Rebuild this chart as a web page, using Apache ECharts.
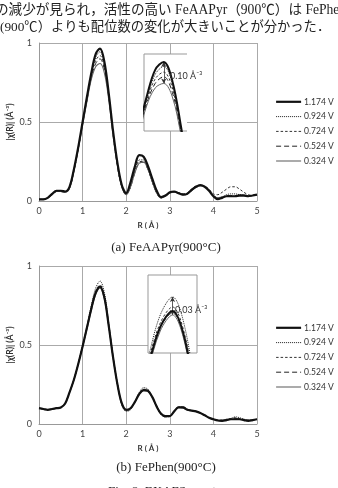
<!DOCTYPE html>
<html><head><meta charset="utf-8">
<script src="https://cdn.jsdelivr.net/npm/echarts@6/dist/echarts.min.js"></script>
<style>html,body{margin:0;padding:0;background:#fff}#c{width:338px;height:488px}</style>
</head><body><div id="c"></div>
<script>
// R axis (Å)
const rValues = [0,0.1,0.2,0.3,0.4,0.5,0.6,0.7,0.8,0.9,1.0,1.1,1.2,1.3,1.4,1.5,1.6,1.7,1.8,1.9,2.0,2.1,2.2,2.3,2.4,2.5,2.6,2.7,2.8,2.9,3.0,3.1,3.2,3.3,3.4,3.5,3.6,3.7,3.8,3.9,4.0,4.1,4.2,4.3,4.4,4.5,4.6,4.7,4.8,4.9,5.0];
const seriesNames = ['1.174 V','0.924 V','0.724 V','0.524 V','0.324 V'];
const xTicks = [0,1,2,3,4,5];
const yTicks = [0,0.5,1];

// (a) FeAAPyr(900°C)
const a1174 = [.01,.01,.02,.045,.065,.065,.06,.09,.2,.34,.5,.66,.81,.93,.965,.88,.68,.44,.24,.1,.05,.12,.22,.29,.28,.22,.14,.065,.025,.035,.055,.06,.05,.04,.045,.07,.09,.1,.09,.065,.03,.012,.02,.03,.03,.03,.035,.035,.03,.035,.04];
const a0924 = [.01,.01,.02,.04,.06,.065,.06,.085,.19,.33,.49,.65,.8,.91,.945,.87,.67,.43,.23,.09,.045,.1,.2,.26,.26,.2,.12,.055,.02,.035,.055,.06,.05,.045,.05,.075,.095,.1,.09,.065,.035,.02,.025,.04,.045,.045,.04,.035,.03,.035,.04];
const a0724 = [.01,.01,.02,.04,.06,.06,.06,.085,.19,.33,.49,.64,.79,.89,.92,.85,.66,.42,.22,.09,.04,.09,.19,.25,.25,.2,.12,.05,.02,.03,.05,.055,.05,.045,.05,.075,.095,.1,.095,.075,.045,.04,.055,.075,.09,.09,.075,.055,.04,.035,.04];
const a0524 = [.01,.01,.02,.04,.06,.06,.055,.08,.19,.33,.49,.64,.78,.87,.9,.83,.65,.42,.22,.09,.04,.09,.18,.24,.245,.2,.12,.05,.02,.03,.05,.055,.05,.04,.045,.07,.09,.1,.09,.07,.035,.02,.025,.035,.035,.035,.035,.035,.03,.035,.04];
const a0324 = [.01,.01,.02,.04,.06,.06,.055,.08,.19,.33,.48,.63,.77,.85,.87,.81,.64,.41,.22,.09,.04,.09,.18,.24,.245,.2,.12,.05,.02,.03,.05,.055,.05,.04,.045,.065,.085,.095,.09,.07,.035,.02,.025,.03,.03,.03,.03,.03,.03,.035,.04];

// (b) FePhen(900°C)
const b1174 = [.1,.095,.09,.095,.1,.105,.13,.2,.28,.38,.49,.61,.73,.83,.87,.8,.62,.42,.25,.13,.09,.1,.14,.19,.215,.21,.17,.11,.065,.05,.05,.08,.105,.105,.09,.085,.08,.07,.055,.04,.03,.022,.02,.025,.03,.03,.03,.025,.02,.025,.03];
const b0924 = [.1,.095,.09,.095,.1,.105,.13,.2,.28,.38,.5,.62,.75,.86,.905,.83,.64,.43,.25,.12,.08,.09,.14,.2,.23,.22,.17,.11,.06,.045,.05,.08,.11,.11,.095,.085,.08,.07,.055,.04,.03,.025,.025,.03,.035,.045,.04,.03,.025,.025,.03];
const b0724 = [.1,.095,.09,.095,.1,.105,.13,.2,.28,.38,.49,.61,.74,.84,.88,.81,.63,.42,.25,.12,.085,.095,.14,.195,.22,.215,.17,.11,.06,.045,.05,.08,.105,.105,.09,.085,.08,.07,.055,.04,.03,.025,.025,.03,.035,.04,.035,.03,.025,.025,.03];
const b0524 = [.1,.095,.09,.095,.1,.105,.13,.2,.28,.38,.49,.61,.73,.83,.865,.8,.62,.42,.25,.125,.09,.1,.14,.19,.215,.21,.17,.11,.065,.05,.05,.08,.105,.105,.09,.085,.08,.07,.055,.04,.03,.022,.02,.025,.03,.035,.03,.025,.02,.025,.03];
const b0324 = [.1,.095,.09,.095,.1,.105,.13,.2,.28,.38,.49,.6,.72,.82,.86,.79,.62,.42,.25,.13,.09,.1,.14,.19,.21,.205,.17,.11,.065,.05,.05,.08,.105,.1,.09,.085,.08,.07,.055,.04,.03,.022,.02,.025,.03,.03,.03,.025,.02,.025,.03];

const dataA = [a1174,a0924,a0724,a0524,a0324];
const dataB = [b1174,b0924,b0724,b0524,b0324];

const styles = [
  {width:2.2, type:'solid', color:'#111'},
  {width:1, type:[1,1], color:'#222'},
  {width:1, type:[2.5,2], color:'#333'},
  {width:1, type:[5,3], color:'#222'},
  {width:1.1, type:'solid', color:'#666'}
];
const pair = arr => arr.map((v,i)=>[rValues[i], v]);

const tickFont = {fontFamily:'Lato, "Open Sans", sans-serif', fontSize:9, color:'#444'};
function mainX(gi){return {gridIndex:gi,type:'value',min:0,max:5,interval:1,
  name:'R ( Å )',nameLocation:'middle',nameGap:20,nameMoveOverlap:false,
  nameTextStyle:{fontFamily:'Lato, sans-serif',fontSize:8,fontWeight:'bold',color:'#333'},
  axisLine:{lineStyle:{color:'#999'}},axisTick:{show:false},
  axisLabel:Object.assign({margin:6},tickFont),
  splitLine:{show:true,lineStyle:{color:'#aaa',width:1}}};}
function mainY(gi){return {gridIndex:gi,type:'value',min:0,max:1,interval:0.5,
  name:'|χ(R)| (Å⁻³)',nameLocation:'middle',nameGap:24,nameRotate:90,nameMoveOverlap:false,
  nameTextStyle:{fontFamily:'Lato, sans-serif',fontSize:8.5,fontWeight:'bold',color:'#333'},
  axisLine:{show:true,lineStyle:{color:'#999'}},axisTick:{show:false},
  axisLabel:Object.assign({margin:7,formatter:v=>String(v)},tickFont),
  splitLine:{show:true,lineStyle:{color:'#aaa',width:1}}};}
function insetX(gi,min,max){return {gridIndex:gi,type:'value',min:min,max:max,show:false};}
function insetY(gi,min,max){return {gridIndex:gi,type:'value',min:min,max:max,show:false};}

const series = [];
[dataA,dataB].forEach((set,k)=>{
  set.forEach((arr,i)=>{
    series.push({name:seriesNames[i],type:'line',xAxisIndex:k,yAxisIndex:k,
      data:pair(arr),smooth:0.35,showSymbol:false,symbol:'none',silent:true,
      z: i===0?4:2,
      lineStyle:Object.assign({},styles[i]),itemStyle:{color:styles[i].color}});
  });
});
// insets (same data, magnified)
[[dataA,2],[dataB,3]].forEach(([set,ax])=>{
  set.forEach((arr,i)=>{
    series.push({name:seriesNames[i],type:'line',xAxisIndex:ax,yAxisIndex:ax,
      data:pair(arr),smooth:0.35,showSymbol:false,symbol:'none',silent:true,clip:true,
      z: i===0?7:6,
      lineStyle:Object.assign({},styles[i],{width:i===0?2:1}),itemStyle:{color:styles[i].color}});
  });
});
// arrows marking the peak difference
series.push({type:'line',xAxisIndex:2,yAxisIndex:2,data:[],z:8,silent:true,
  markLine:{silent:true,symbol:['arrow','arrow'],symbolSize:[4,5],label:{show:false},
    lineStyle:{type:'solid',color:'#333',width:0.8},
    data:[[{coord:[1.4,a1174[14]]},{coord:[1.4,a0324[14]]}]]}});
series.push({type:'line',xAxisIndex:3,yAxisIndex:3,data:[],z:8,silent:true,
  markLine:{silent:true,symbol:['arrow','arrow'],symbolSize:[4,5],label:{show:false},
    lineStyle:{type:'solid',color:'#333',width:0.8},
    data:[[{coord:[1.4,b0924[14]]},{coord:[1.4,b0324[14]]}]]}});

const legendBase = {orient:'vertical',left:275,padding:0,itemWidth:25,itemHeight:12,itemGap:5.2,
  data:seriesNames,selectedMode:false,
  itemStyle:{color:'rgba(0,0,0,0)',borderColor:'rgba(0,0,0,0)',borderWidth:0},
  lineStyle:{width:'inherit'},
  textStyle:{fontFamily:'Lato, sans-serif',fontSize:8.5,color:'#333',padding:[0,0,0,-2]}};

const g = (l,t,w,h) => ({left:l,top:t,width:w,height:h,containLabel:false,outerBoundsMode:'none'});
const serif = '"Liberation Serif", "Noto Sans CJK JP", serif';
const option = {
  animation:false,
  grid:[g(39,43,218,158),g(39,266,218,158),g(144,54,43,77),g(148,275,49,78)],
  xAxis:[mainX(0),mainX(1),insetX(2,1.17,1.67),insetX(3,1.2,1.6)],
  yAxis:[mainY(0),mainY(1),insetY(2,0.66,1.0),insetY(3,0.765,0.96)],
  legend:[Object.assign({top:97},legendBase),Object.assign({top:323},legendBase)],
  series:series,
  graphic:[
    {type:'rect',z:3,shape:{x:144,y:54,width:43,height:77},style:{fill:'#fff'}},
    {type:'polyline',z:4,shape:{points:[[187,54],[144,54],[144,131],[187,131]]},style:{stroke:'#999',lineWidth:1,fill:null}},
    {type:'rect',z:3,shape:{x:148,y:275,width:49,height:78},style:{fill:'#fff',stroke:'#999',lineWidth:1}},
    {type:'text',z:9,style:{text:'0.10 Å⁻³',x:170,y:76,verticalAlign:'middle',font:'9px Lato, sans-serif',fill:'#333'}},
    {type:'text',z:9,style:{text:'0.03 Å⁻³',x:175,y:310,verticalAlign:'middle',font:'9px Lato, sans-serif',fill:'#333'}},
    {type:'text',style:{text:'の減少が見られ，活性の高い FeAAPyr（900℃）は FePhen',x:-5,y:10,verticalAlign:'middle',font:'13.6px '+serif,fill:'#222'}},
    {type:'text',style:{text:'(900℃）よりも配位数の変化が大きいことが分かった．',x:0,y:28,verticalAlign:'middle',font:'13.3px '+serif,fill:'#222'}},
    {type:'text',style:{text:'(a) FeAAPyr(900°C)',x:166,y:248,align:'center',verticalAlign:'middle',font:'13px "Liberation Serif", serif',fill:'#222'}},
    {type:'text',style:{text:'(b) FePhen(900°C)',x:166,y:468,align:'center',verticalAlign:'middle',font:'13px "Liberation Serif", serif',fill:'#222'}},
    {type:'text',style:{text:'Fig. 8  EXAFS spectra',x:108,y:485,verticalAlign:'top',font:'13px "Liberation Serif", serif',fill:'#222'}}
  ]
};
const chart = echarts.init(document.getElementById('c'),null,{renderer:'canvas'});
chart.setOption(option);
</script></body></html>
